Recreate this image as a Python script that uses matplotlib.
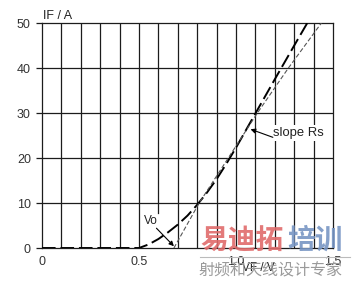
import numpy as np
import matplotlib
matplotlib.use("Agg")
import matplotlib.pyplot as plt
from matplotlib.lines import Line2D

# forward characteristic (thick long-dashed curve)
vf_curve = [0.0, 0.5, 0.55, 0.60, 0.65, 0.70, 0.75, 0.80, 0.85, 0.90, 0.95, 1.00, 1.10, 1.20, 1.30, 1.37]
if_curve = [0.0, 0.0, 0.8, 2.0, 3.5, 5.2, 7.2, 9.6, 12.3, 15.3, 18.7, 22.3, 29.9, 37.5, 45.0, 50.2]

# linear approximation through Vo with slope Rs (thin dashed)
vf_tan = [0.68, 0.81, 0.96, 1.11, 1.27, 1.44]
if_tan = [0.0, 10.0, 20.0, 30.0, 40.0, 50.0]

x_ticks = [0, 0.5, 1.0, 1.5]
x_ticklabels = ["0", "0.5", "1.0", "1.5"]
y_ticks = [0, 10, 20, 30, 40, 50]
grid_v = [0.1, 0.2, 0.3, 0.4, 0.5, 0.7, 0.8, 0.9, 1.0, 1.1, 1.2, 1.3, 1.4]
grid_h = [10, 20, 30, 40]

plt.rcParams["font.family"] = ["Liberation Sans", "DejaVu Sans"]
GRID = "#1c1c1c"

fig = plt.figure(figsize=(3.54, 2.81), dpi=100)
ax = fig.add_axes([0.1186, 0.1174, 0.8221, 0.8006])
ax.set_xlim(0, 1.5)
ax.set_ylim(0, 50)

for v in grid_v:
    ax.axvline(v, color=GRID, lw=0.9, zorder=1)
# the 0.6 V line stops above the "Vo" label
ax.plot([0.6, 0.6], [7.8, 50], color=GRID, lw=0.9, zorder=1)
for h in grid_h:
    ax.axhline(h, color=GRID, lw=0.9, zorder=1)
for s in ax.spines.values():
    s.set_color(GRID)
    s.set_linewidth(0.9)

ax.plot(vf_curve, if_curve, color="black", lw=1.4, dashes=(7, 2.5), zorder=3)
ax.plot(vf_tan, if_tan, color="#555555", lw=0.8, dashes=(4, 2), zorder=3)

ax.set_xticks(x_ticks)
ax.set_xticklabels(x_ticklabels)
ax.set_yticks(y_ticks)
ax.tick_params(axis="x", length=0, pad=6, labelsize=9, labelcolor="#333333")
ax.tick_params(axis="y", length=4, width=0.9, color=GRID, pad=4, labelsize=9, labelcolor="#333333")

ax.text(0.003, 1.03, "IF / A", transform=ax.transAxes, ha="left", va="center",
        fontsize=9, color="#222222")
ax.text(0.745, -0.09, "VF / V", transform=ax.transAxes, ha="center", va="center",
        fontsize=8.5, color="#222222")

# labels with arrows
ax.text(0.56, 6.0, "Vo", ha="center", va="center", fontsize=8.5, color="#222222", zorder=4)
ax.annotate("", xy=(0.68, 0.4), xytext=(0.59, 4.4),
            arrowprops=dict(arrowstyle="-|>", color="black", lw=0.8,
                            mutation_scale=7, shrinkA=0, shrinkB=0), zorder=4)
ax.text(1.19, 25.6, "slope Rs", ha="left", va="center", fontsize=9.4, color="#222222",
        bbox=dict(facecolor="white", edgecolor="none", pad=1.5), zorder=4)
ax.annotate("", xy=(1.075, 26.4), xytext=(1.19, 24.6),
            arrowprops=dict(arrowstyle="-|>", color="black", lw=0.8,
                            mutation_scale=7, shrinkA=0, shrinkB=0), zorder=4)

# watermark
fig.text(0.565, 0.142, "易迪拓", fontsize=20, fontweight="bold", color="#e06c6c",
         family=["Noto Sans CJK SC", "DejaVu Sans"], ha="left", va="center", alpha=0.9, zorder=10)
fig.text(0.812, 0.142, "培训", fontsize=20, fontweight="bold", color="#7896c4",
         family=["Noto Sans CJK SC", "DejaVu Sans"], ha="left", va="center", alpha=0.9, zorder=10)
fig.add_artist(Line2D([0.565, 0.99], [0.086, 0.086], color="#bbbbbb", lw=0.8))
fig.text(0.56, 0.036, "射频和天线设计专家", fontsize=11.5, color="#9a9a9a",
         family=["Noto Sans CJK SC", "DejaVu Sans"], ha="left", va="center", zorder=10)

fig.savefig("out.png", dpi=100)
